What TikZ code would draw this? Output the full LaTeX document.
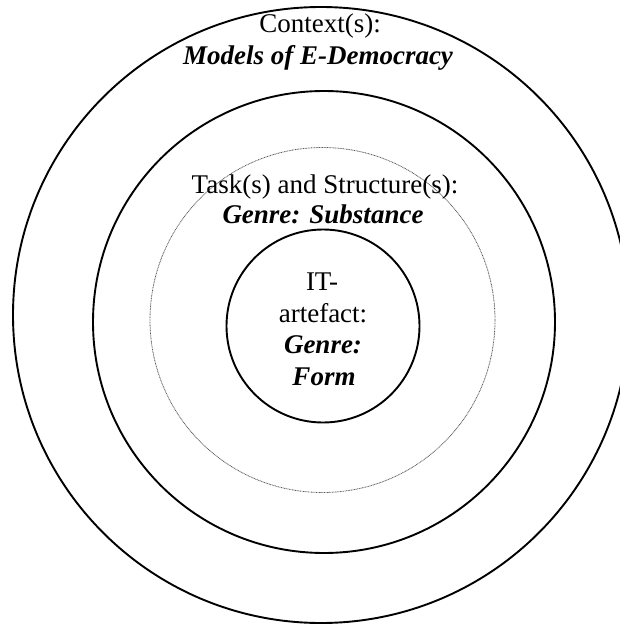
\documentclass[tikz,border=0pt]{standalone}
\usepackage{fontspec}
\setmainfont{Liberation Serif}
\begin{document}
\begin{tikzpicture}[x=1pt,y=-1pt,
  ring/.style={draw=black,line width=1.9pt},
  dotring/.style={draw=black!65,line width=0.8pt,dash pattern=on 0.9pt off 0.7pt},
  lbl/.style={anchor=base,inner sep=0pt,font=\fontsize{27}{31}\selectfont},
  lblb/.style={lbl,font=\fontsize{27}{31}\selectfont\bfseries\itshape}]
\useasboundingbox (0,0) rectangle (620,626);
\clip (0,0) rectangle (620,626);
\fill[white] (0,0) rectangle (620,626);
\draw[ring] (321,315) circle (308pt);
\draw[ring] (324,322) circle (231pt);
\draw[dotring] (322.5,320) circle (172.5pt);
\draw[ring] (323,326) circle (96.5pt);
\node[lbl]  (ctx1) at (320,33) {Context(s):};
\node[lblb] (ctx2) at (318,64) {Models of E-Democracy};
\node[lbl]  (tsk1) at (325,193) {Task(s) and Structure(s):};
\node[lblb] (tsk2) at (323,223) {Genre: Substance};
\node[lbl]  (it1) at (322,290) {IT-};
\node[lbl]  (it2) at (323,322) {artefact:};
\node[lblb] (it3) at (323,353) {Genre:};
\node[lblb] (it4) at (324,385) {Form};
\end{tikzpicture}
\end{document}
